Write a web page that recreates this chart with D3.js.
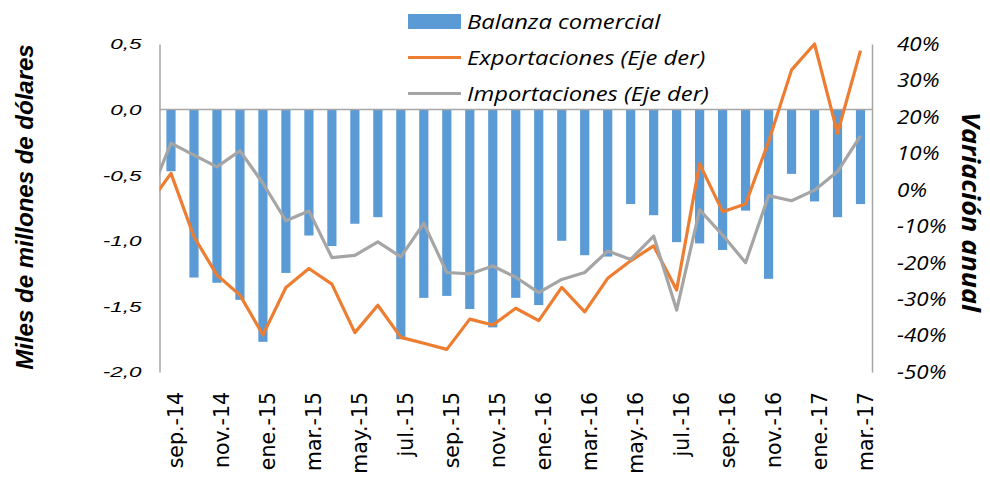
<!DOCTYPE html>
<html>
<head>
<meta charset="utf-8">
<script src="https://cdn.jsdelivr.net/npm/d3@7"></script>
<style>
  body { margin: 0; background: #fff; }
  svg { display: block; }
</style>
</head>
<body>
<script>
// months shown on the category axis (only every other label is printed)
var months = ["sep.-14","oct.-14","nov.-14","dic.-14","ene.-15","feb.-15","mar.-15","abr.-15",
  "may.-15","jun.-15","jul.-15","ago.-15","sep.-15","oct.-15","nov.-15","dic.-15",
  "ene.-16","feb.-16","mar.-16","abr.-16","may.-16","jun.-16","jul.-16","ago.-16",
  "sep.-16","oct.-16","nov.-16","dic.-16","ene.-17","feb.-17","mar.-17"];

// Balanza comercial, miles de millones de dólares
var balanza = [-0.47,-1.28,-1.32,-1.45,-1.77,-1.245,-0.96,-1.04,-0.87,-0.82,-1.75,-1.435,
  -1.42,-1.52,-1.66,-1.435,-1.49,-1.00,-1.11,-1.12,-0.72,-0.805,-1.01,-1.02,
  -1.07,-0.77,-1.29,-0.49,-0.70,-0.82,-0.72];

// variación anual (%), first value is ago.-14 (falls outside the plot, clipped)
var exportaciones = [-4.3, 4.5,-12.9,-23.4,-28.9,-39.8,-26.8,-21.6,-25.9,-39.2,-31.7,-40.5,
  -42.1,-43.8,-35.5,-37.1,-32.5,-35.9,-26.8,-33.5,-24.3,-19.5,-15.4,-27.5,7.1,
  -6.0,-3.9,13.2,32.9,40.0,15.5,38.2];
var importaciones = [-2.8, 12.8,9.5,6.3,10.7,1.8,-8.5,-5.8,-18.6,-18.0,-14.3,-18.4,
  -9.2,-22.7,-23.1,-20.9,-24.0,-28.2,-24.6,-22.7,-16.8,-19.1,-12.7,-33.0,-5.5,
  -12.4,-20.0,-1.6,-3.0,-0.1,5.0,14.8];

var leftTicks = [0.5, 0, -0.5, -1, -1.5, -2];
var rightTicks = [40, 30, 20, 10, 0, -10, -20, -30, -40, -50];

var seriesNames = ["Balanza comercial", "Exportaciones (Eje der)", "Importaciones (Eje der)"];
var colors = ["#5b9bd5", "#ed7d31", "#a5a5a5"];

var width = 990, height = 479,
    plotLeft = 159.5, plotRight = 872, plotTop = 44, plotBottom = 372,
    axisColor = "#a6a6a6";

var esLocale = d3.formatLocale({decimal: ",", thousands: ".", grouping: [3], currency: ["", ""], minus: "-"});
var fmt1 = esLocale.format(".1f");

var svg = d3.select("body").append("svg")
    .attr("width", width)
    .attr("height", height);

var x = d3.scaleBand()
    .domain(months)
    .range([plotLeft, plotRight])
    .paddingInner(0.6)
    .paddingOuter(0.3);

// position by index for the lines (allows the clipped leading point)
var xi = d3.scaleLinear()
    .domain([0, months.length - 1])
    .range([x(months[0]) + x.bandwidth() / 2, x(months[months.length - 1]) + x.bandwidth() / 2]);

var yL = d3.scaleLinear().domain([-2, 0.5]).range([plotBottom, plotTop]);
var yR = d3.scaleLinear().domain([-50, 40]).range([plotBottom, plotTop]);

// bars
svg.append("g")
    .selectAll("rect")
    .data(balanza)
    .enter()
    .append("rect")
    .attr("x", function(d, i){ return x(months[i]); })
    .attr("y", function(d){ return yL(Math.max(0, d)); })
    .attr("width", x.bandwidth())
    .attr("height", function(d){ return Math.abs(yL(d) - yL(0)); })
    .attr("fill", colors[0]);

// left axis
var gL = svg.append("g")
    .attr("transform", "translate(" + plotLeft + ",0)")
    .call(d3.axisLeft(yL).tickValues(leftTicks).tickFormat(fmt1).tickSize(0).tickPadding(0));
gL.select(".domain").attr("stroke", axisColor).attr("stroke-width", 1.5);
gL.selectAll("text")
    .attr("x", -18 / 1.45)
    .attr("transform", "scale(1.45,1)")
    .attr("font-family", "'Liberation Sans', Arial, sans-serif")
    .attr("font-style", "italic")
    .attr("font-size", 15.5)
    .attr("fill", "#000");

// right axis
var gR = svg.append("g")
    .attr("transform", "translate(" + plotRight + ",0)")
    .call(d3.axisRight(yR).tickValues(rightTicks).tickFormat(function(d){ return d + "%"; }).tickSize(0).tickPadding(0));
gR.select(".domain").attr("stroke", axisColor).attr("stroke-width", 1.5);
gR.selectAll("text")
    .attr("x", 25 / 1.12)
    .attr("transform", "scale(1.12,1)")
    .attr("font-family", "'Open Sans', sans-serif")
    .attr("font-style", "italic")
    .attr("font-size", 20)
    .attr("fill", "#000");

// category labels at the bottom
var gX = svg.append("g")
    .attr("transform", "translate(0," + plotBottom + ")")
    .call(d3.axisBottom(x).tickValues(months.filter(function(d, i){ return i % 2 === 0; })).tickSize(0));
gX.select(".domain").remove();
gX.selectAll("text")
    .attr("transform", "rotate(-90)")
    .attr("text-anchor", "end")
    .attr("x", -20)
    .attr("y", 12)
    .attr("dy", 0)
    .attr("font-family", "'DejaVu Sans', sans-serif")
    .attr("font-size", 20.5)
    .attr("fill", "#000");

// zero line
svg.append("line")
    .attr("x1", plotLeft).attr("x2", plotRight)
    .attr("y1", yL(0)).attr("y2", yL(0))
    .attr("stroke", axisColor)
    .attr("stroke-width", 1.5);

// lines (clipped to plot area)
svg.append("clipPath")
    .attr("id", "plot-clip")
  .append("rect")
    .attr("x", plotLeft).attr("y", 0)
    .attr("width", plotRight - plotLeft).attr("height", height);

var line = d3.line()
    .x(function(d, i){ return xi(i - 1); })
    .y(function(d){ return yR(d); });

var lineGroup = svg.append("g").attr("clip-path", "url(#plot-clip)");
lineGroup.append("path")
    .datum(exportaciones)
    .attr("d", line)
    .attr("fill", "none")
    .attr("stroke", colors[1])
    .attr("stroke-width", 3.2)
    .attr("stroke-linejoin", "round");
lineGroup.append("path")
    .datum(importaciones)
    .attr("d", line)
    .attr("fill", "none")
    .attr("stroke", colors[2])
    .attr("stroke-width", 3.2)
    .attr("stroke-linejoin", "round");

// legend
var legend = svg.append("g").attr("transform", "translate(408,0)");
var rowY = [21.5, 57.5, 93.5];
legend.append("rect")
    .attr("x", 0).attr("y", rowY[0] - 7.5)
    .attr("width", 53).attr("height", 15)
    .attr("fill", colors[0]);
[1, 2].forEach(function(k){
  legend.append("line")
      .attr("x1", 0).attr("x2", 53)
      .attr("y1", rowY[k]).attr("y2", rowY[k])
      .attr("stroke", colors[k])
      .attr("stroke-width", 3.2);
});
legend.selectAll("text")
    .data(seriesNames)
    .enter()
    .append("text")
    .attr("x", 59 / 1.16)
    .attr("y", function(d, i){ return rowY[i]; })
    .attr("dy", "0.35em")
    .attr("transform", "scale(1.16,1)")
    .attr("font-family", "'Open Sans', sans-serif")
    .attr("font-style", "italic")
    .attr("font-size", 20.5)
    .attr("fill", "#000")
    .text(function(d){ return d; });

// axis titles
svg.append("text")
    .attr("transform", "translate(33,207) rotate(-90)")
    .attr("text-anchor", "middle")
    .attr("font-family", "'Liberation Sans', Arial, sans-serif")
    .attr("font-weight", "bold")
    .attr("font-style", "italic")
    .attr("font-size", 24)
    .text("Miles de millones de dólares");

svg.append("text")
    .attr("transform", "translate(962,212) rotate(90) scale(1.1,1)")
    .attr("text-anchor", "middle")
    .attr("font-family", "'Open Sans', sans-serif")
    .attr("font-weight", "bold")
    .attr("font-style", "italic")
    .attr("font-size", 24.5)
    .text("Variación anual");
</script>
</body>
</html>
